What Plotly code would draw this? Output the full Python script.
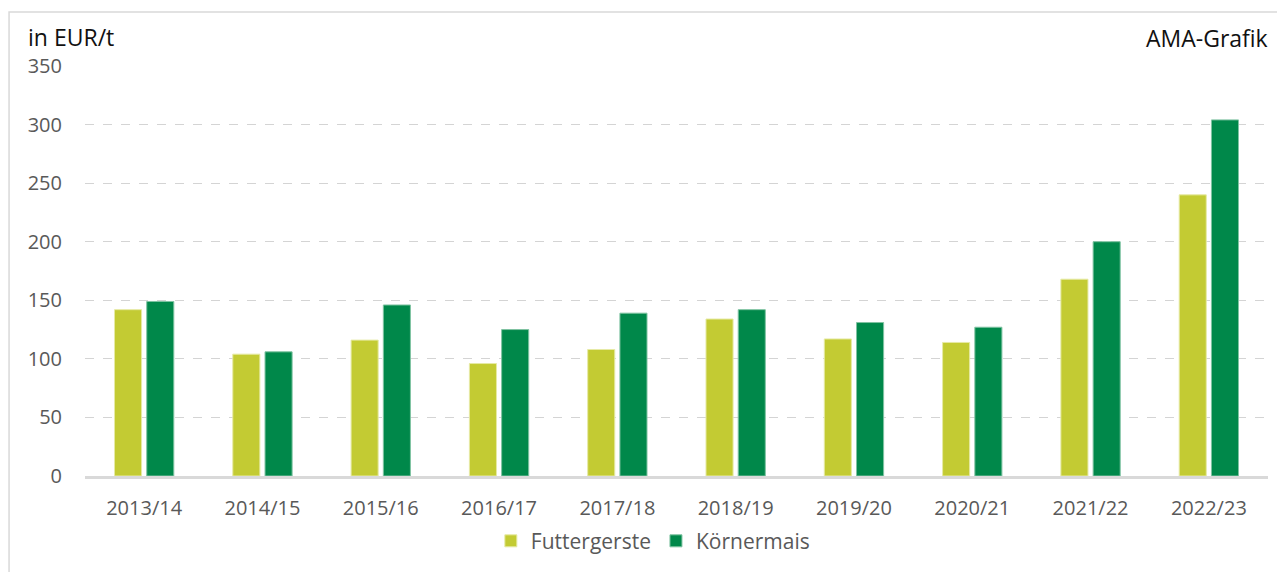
import plotly.graph_objects as go

seasons = ["2013/14", "2014/15", "2015/16", "2016/17", "2017/18",
           "2018/19", "2019/20", "2020/21", "2021/22", "2022/23"]
futtergerste = [142, 104, 116, 96, 108, 134, 117, 114, 168, 240]
koernermais = [149, 106, 146, 125, 139, 142, 131, 127, 200, 304]
y_ticks = [0, 50, 100, 150, 200, 250, 300, 350]

fig = go.Figure()
fig.add_trace(go.Bar(
    x=seasons, y=futtergerste, name="Futtergerste",
    marker=dict(color="#c3cb33", line=dict(color="#e6eaa5", width=1))))
fig.add_trace(go.Bar(
    x=seasons, y=koernermais, name="Körnermais",
    marker=dict(color="#00884a", line=dict(color="#7fc3a2", width=1))))

# page body has an 8px margin, so margins are shifted by -8
fig.update_layout(
    width=1285, height=572,
    margin=dict(l=77, r=25, t=58, b=104),
    paper_bgcolor="white", plot_bgcolor="white",
    font=dict(family="Open Sans", size=20, color="#595959"),
    barmode="group", bargap=0.455, bargroupgap=0.16,
    showlegend=True,
    legend=dict(orientation="h", x=0.48, y=-0.159, xanchor="center", yanchor="middle",
                font=dict(size=21, color="#595959"), itemwidth=30, traceorder="normal"),
    xaxis=dict(showgrid=False, showline=True, linecolor="#d9d9d9", linewidth=3,
               ticks="", ticklabelstandoff=12, tickfont=dict(size=20)),
    yaxis=dict(range=[0, 350], tickvals=y_ticks, showgrid=True, gridcolor="#d4d4d4",
               griddash="dash", gridwidth=1, zeroline=False, showline=False,
               ticks="", ticklabelstandoff=22, tickfont=dict(size=20)),
    annotations=[
        dict(text="in EUR/t", xref="paper", yref="paper", x=-0.0497, y=1.071,
             xanchor="left", yanchor="middle", showarrow=False,
             font=dict(size=23, color="#111111")),
        dict(text="AMA-Grafik", xref="paper", yref="paper", x=1.002, y=1.068,
             xanchor="right", yanchor="middle", showarrow=False,
             font=dict(size=23, color="#111111")),
    ],
    shapes=[dict(type="rect", xref="paper", yref="paper", x0=-0.0642, x1=1.0135,
                 y0=-0.3, y1=1.1317, line=dict(color="#d9d9d9", width=1.5),
                 layer="below")],
)

fig.write_html("out.html")
